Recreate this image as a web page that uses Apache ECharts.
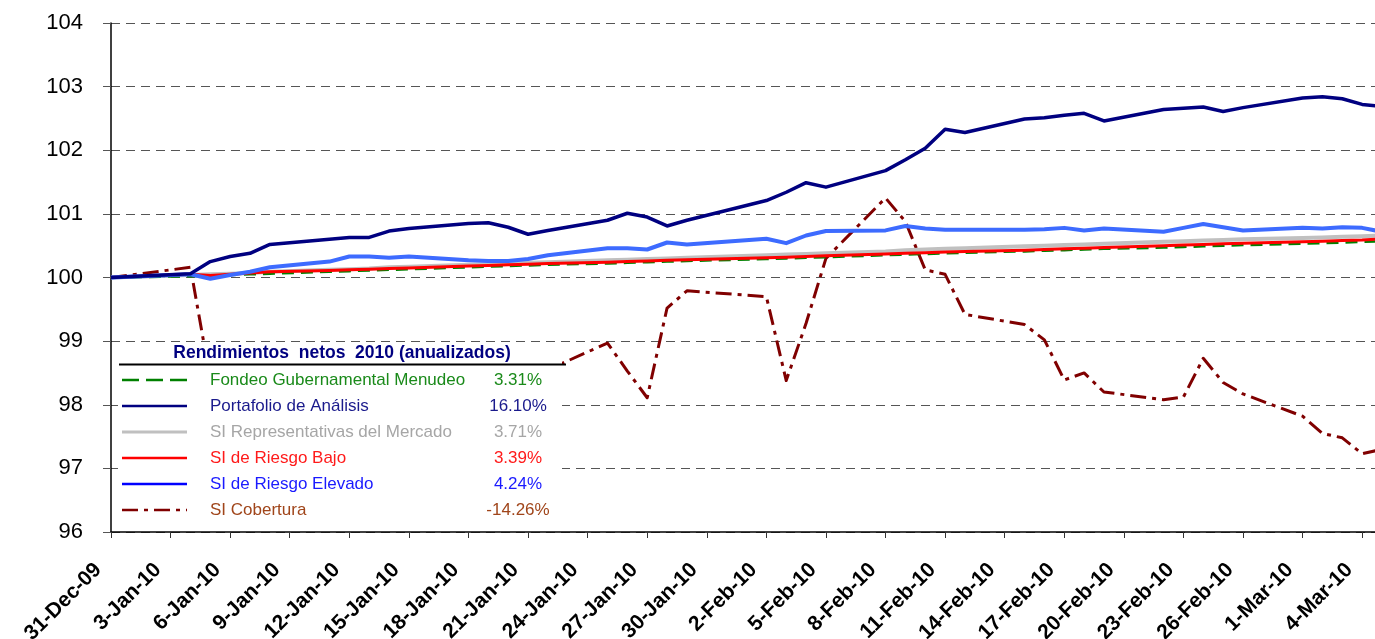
<!DOCTYPE html>
<html>
<head>
<meta charset="utf-8">
<script src="https://cdn.jsdelivr.net/npm/echarts@6/dist/echarts.min.js"></script>
<style>
  html, body { margin: 0; padding: 0; background: #fff; }
  #chart { width: 1375px; height: 639px; }
</style>
</head>
<body>
<div id="chart"></div>
<script>
// fechas habiles (sin fines de semana ni festivos)
var fechas = [
    '2009-12-31',
    '2010-01-04', '2010-01-05', '2010-01-06', '2010-01-07', '2010-01-08',
    '2010-01-11', '2010-01-12', '2010-01-13', '2010-01-14', '2010-01-15',
    '2010-01-18', '2010-01-19', '2010-01-20', '2010-01-21', '2010-01-22',
    '2010-01-25', '2010-01-26', '2010-01-27', '2010-01-28', '2010-01-29',
    '2010-02-02', '2010-02-03', '2010-02-04', '2010-02-05',
    '2010-02-08', '2010-02-09', '2010-02-10', '2010-02-11', '2010-02-12',
    '2010-02-15', '2010-02-16', '2010-02-17', '2010-02-18', '2010-02-19',
    '2010-02-22', '2010-02-23', '2010-02-24', '2010-02-25', '2010-02-26',
    '2010-03-01', '2010-03-02', '2010-03-03', '2010-03-04', '2010-03-05'
];

var fondeo = [
    100.00,
    100.02, 100.03, 100.04, 100.05, 100.06,
    100.09, 100.10, 100.11, 100.12, 100.13,
    100.16, 100.17, 100.18, 100.19, 100.20,
    100.22, 100.23, 100.24, 100.25, 100.26,
    100.29, 100.30, 100.31, 100.32,
    100.35, 100.36, 100.37, 100.38, 100.39,
    100.41, 100.42, 100.43, 100.44, 100.45,
    100.47, 100.48, 100.49, 100.50, 100.51,
    100.53, 100.54, 100.55, 100.56, 100.57
];

var portafolio = [
    100.00,
    100.06, 100.25, 100.33, 100.38, 100.52,
    100.60, 100.63, 100.63, 100.73, 100.77,
    100.85, 100.86, 100.79, 100.68, 100.74,
    100.90, 101.01, 100.95, 100.81, 100.90,
    101.21, 101.34, 101.49, 101.42,
    101.68, 101.85, 102.03, 102.33, 102.28,
    102.49, 102.51, 102.55, 102.58, 102.46,
    102.64, 102.66, 102.68, 102.61, 102.67,
    102.82, 102.84, 102.81, 102.72, 102.69
];

var representativas = [
    100.00,
    100.04, 100.05, 100.06, 100.07, 100.09,
    100.12, 100.13, 100.14, 100.16, 100.17,
    100.20, 100.21, 100.22, 100.23, 100.24,
    100.27, 100.28, 100.29, 100.30, 100.31,
    100.35, 100.36, 100.37, 100.38,
    100.41, 100.43, 100.44, 100.45, 100.46,
    100.49, 100.50, 100.51, 100.52, 100.53,
    100.56, 100.57, 100.58, 100.59, 100.60,
    100.62, 100.63, 100.64, 100.65, 100.66
];

var riesgoBajo = [
    100.00,
    100.05, 100.03, 100.05, 100.07, 100.09,
    100.11, 100.12, 100.13, 100.14, 100.15,
    100.18, 100.19, 100.20, 100.21, 100.22,
    100.24, 100.25, 100.26, 100.27, 100.28,
    100.31, 100.32, 100.33, 100.34,
    100.37, 100.38, 100.39, 100.40, 100.41,
    100.43, 100.44, 100.45, 100.46, 100.47,
    100.50, 100.51, 100.52, 100.53, 100.54,
    100.56, 100.57, 100.58, 100.59, 100.61
];

var riesgoElevado = [
    100.00,
    100.05, 99.98, 100.04, 100.09, 100.16,
    100.25, 100.33, 100.33, 100.31, 100.33,
    100.27, 100.26, 100.26, 100.29, 100.35,
    100.46, 100.46, 100.44, 100.55, 100.52,
    100.61, 100.54, 100.66, 100.73,
    100.74, 100.81, 100.77, 100.75, 100.75,
    100.75, 100.76, 100.78, 100.74, 100.77,
    100.72, 100.78, 100.84, 100.79, 100.74,
    100.78, 100.77, 100.79, 100.78, 100.72
];

var cobertura = [
    100.00,
    100.16, 98.40, 97.60, 97.40, 97.70,
    97.90, 98.10, 97.80, 98.00, 98.20,
    98.30, 98.10, 98.00, 98.30, 98.55,
    98.97, 98.53, 98.11, 99.52, 99.79,
    99.70, 98.38, 99.28, 100.30,
    101.25, 100.88, 100.12, 100.05, 99.42,
    99.26, 99.02, 98.39, 98.50, 98.20,
    98.08, 98.12, 98.73, 98.35, 98.17,
    97.82, 97.55, 97.48, 97.23, 97.30
];

// tabla de la leyenda
var nombres = ['Fondeo Gubernamental Menudeo', 'Portafolio de Análisis', 'SI Representativas del Mercado',
    'SI de Riesgo Bajo', 'SI de Riesgo Elevado', 'SI Cobertura'];
var rendimientos = ['3.31%', '16.10%', '3.71%', '3.39%', '4.24%', '-14.26%'];
var tituloLeyenda = 'Rendimientos  netos  2010 (anualizados)';

var meses = ['Jan', 'Feb', 'Mar', 'Apr', 'May', 'Jun', 'Jul', 'Aug', 'Sep', 'Oct', 'Nov', 'Dec'];
var base = Date.UTC(2009, 11, 31);
var DIA = 86400000;

// dias transcurridos desde 31-Dec-09
function diaIndex(f) {
    var p = f.split('-');
    return Math.round((Date.UTC(+p[0], +p[1] - 1, +p[2]) - base) / DIA);
}

function etiquetaFecha(v) {
    if (v % 3 !== 0) {
        return '';
    }
    var d = new Date(base + v * DIA);
    var yy = String(d.getUTCFullYear()).slice(2);
    return d.getUTCDate() + '-' + meses[d.getUTCMonth()] + '-' + yy;
}

function serieDatos(valores) {
    var arr = [];
    for (var i = 0; i < fechas.length; i++) {
        arr.push([diaIndex(fechas[i]), valores[i]]);
    }
    return arr;
}

var estilos = [
    { color: '#008000', width: 2.5, type: [12, 7], text: '#1a8a1a' },
    { color: '#000080', width: 3.5, type: 'solid', text: '#1a1a8c' },
    { color: '#C0C0C0', width: 4, type: 'solid', text: '#a6a6a6' },
    { color: '#FF0000', width: 3, type: 'solid', text: '#ff1a1a' },
    { color: '#3D6BFF', width: 4, type: 'solid', text: '#1a1aff' },
    { color: '#800000', width: 3, type: [16, 6, 4, 6], text: '#a0451a' }
];
var valoresSeries = [fondeo, portafolio, representativas, riesgoBajo, riesgoElevado, cobertura];
// orden de dibujo: cobertura abajo, portafolio arriba
var ordenDibujo = [5, 2, 0, 3, 4, 1];

var series = [];
for (var k = 0; k < ordenDibujo.length; k++) {
    var i = ordenDibujo[k];
    series.push({
        name: nombres[i],
        type: 'line',
        data: serieDatos(valoresSeries[i]),
        showSymbol: false,
        symbol: 'none',
        z: 2 + k,
        lineStyle: {
            color: estilos[i].color,
            width: estilos[i].width,
            type: estilos[i].type,
            cap: 'butt',
            join: 'round'
        }
    });
}

// leyenda dibujada a mano (caja blanca sobre las lineas)
var legendaX = 118, legendaY = 343;
var filaY0 = 380, filaDy = 26;
var elementos = [
    {
        type: 'rect',
        shape: { x: legendaX, y: legendaY, width: 444, height: 180 },
        style: { fill: '#fff' },
        z: 100
    },
    {
        type: 'text',
        x: 342, y: 353,
        style: {
            text: tituloLeyenda, fill: '#000080', align: 'center', verticalAlign: 'middle',
            font: 'bold 17.5px "Liberation Sans", Arial, sans-serif'
        },
        z: 101
    },
    {
        type: 'line',
        shape: { x1: 119, y1: 364.5, x2: 566, y2: 364.5 },
        style: { stroke: '#000', lineWidth: 2 },
        z: 101
    }
];
for (var j = 0; j < nombres.length; j++) {
    var yy = filaY0 + j * filaDy;
    var dash = null;
    if (j === 0) dash = [17, 7];
    if (j === 5) dash = [16, 6, 4, 6];
    elementos.push({
        type: 'line',
        shape: { x1: 122, y1: yy, x2: 187, y2: yy },
        style: { stroke: j === 4 ? '#0000FF' : estilos[j].color, lineWidth: j === 2 ? 3 : 2.5, lineDash: dash },
        z: 101
    });
    elementos.push({
        type: 'text',
        x: 210, y: yy,
        style: {
            text: nombres[j], fill: estilos[j].text, verticalAlign: 'middle',
            font: '17px "Liberation Sans", Arial, sans-serif'
        },
        z: 101
    });
    elementos.push({
        type: 'text',
        x: 518, y: yy,
        style: {
            text: rendimientos[j], fill: estilos[j].text, align: 'center', verticalAlign: 'middle',
            font: '17px "Liberation Sans", Arial, sans-serif'
        },
        z: 101
    });
}

var chart = echarts.init(document.getElementById('chart'), null, { renderer: 'canvas' });
var option = {
    animation: false,
    backgroundColor: '#fff',
    grid: { left: 111, right: -7, top: 23, bottom: 107, containLabel: false, outerBoundsMode: 'none' },
    xAxis: {
        type: 'value',
        min: 0,
        max: 64,
        interval: 3,
        axisLine: { show: true, onZero: false, lineStyle: { color: '#000', width: 1.5 } },
        axisTick: { show: true, length: 6, lineStyle: { color: '#333' } },
        splitLine: { show: false },
        axisLabel: {
            rotate: 45,
            margin: 22,
            padding: [0, 18, 0, 0],
            color: '#000',
            fontWeight: 'bold',
            fontSize: 21,
            fontFamily: '"Liberation Sans", Arial, sans-serif',
            showMaxLabel: false,
            formatter: etiquetaFecha
        }
    },
    yAxis: {
        type: 'value',
        min: 96,
        max: 104,
        interval: 1,
        axisLine: { show: true, lineStyle: { color: '#000', width: 1.5 } },
        axisTick: { show: true, length: 8, lineStyle: { color: '#555' } },
        splitLine: { show: true, lineStyle: { color: '#555', width: 1, type: [9, 6] } },
        axisLabel: {
            margin: 28,
            color: '#000',
            fontSize: 22,
            fontFamily: '"Liberation Sans", Arial, sans-serif'
        }
    },
    graphic: { elements: elementos },
    series: series
};
chart.setOption(option);
</script>
</body>
</html>
